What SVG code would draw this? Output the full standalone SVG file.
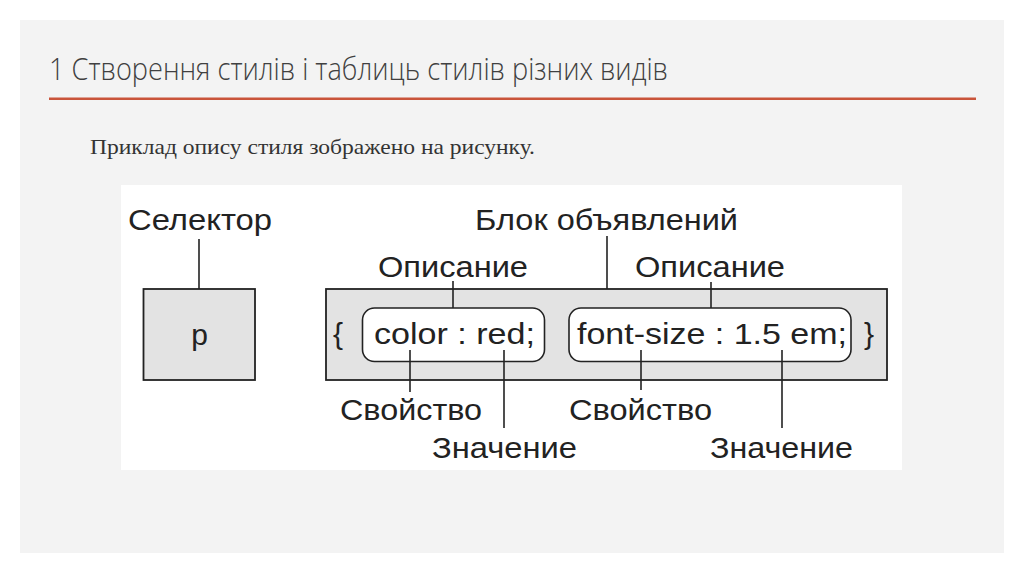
<svg xmlns="http://www.w3.org/2000/svg" width="1024" height="574" viewBox="0 0 1024 574">
<style>
.lbl{font-family:"Liberation Sans",Arial,sans-serif;font-size:30px;fill:#222}
.ln{stroke:#222;stroke-width:1.6;fill:none}
.box{fill:#e3e3e3;stroke:#222;stroke-width:1.8}
.rbox{fill:#fff;stroke:#222;stroke-width:1.6}
</style>
<rect width="1024" height="574" fill="#ffffff"/>
<rect x="20" y="20" width="984" height="533" fill="#f3f3f3"/>
<text x="49" y="80" font-family="'Open Sans','Noto Sans',sans-serif" font-weight="300" font-size="31" fill="#404040" textLength="619" lengthAdjust="spacingAndGlyphs">1 Створення стилів і таблиць стилів різних видів</text>
<rect x="49" y="97.5" width="927" height="2.5" fill="#c9543a"/>
<text x="90" y="154" font-family="'Liberation Serif','Times New Roman',serif" font-size="21" fill="#333" textLength="445" lengthAdjust="spacingAndGlyphs">Приклад опису стиля зображено на рисунку.</text>
<rect x="121" y="185" width="781" height="285" fill="#ffffff"/>
<g id="selector">
<rect class="box" x="143.5" y="289" width="111.5" height="91"/>
<text class="lbl" x="199.5" y="345" text-anchor="middle" font-size="32">p</text>
<text class="lbl" x="128" y="230" textLength="144" lengthAdjust="spacingAndGlyphs">Селектор</text>
</g>
<g id="declaration-block">
<rect class="box" x="326" y="289" width="561" height="91"/>
<text class="lbl" x="475" y="230" textLength="263" lengthAdjust="spacingAndGlyphs">Блок объявлений</text>
<text class="lbl" x="333" y="344">{</text>
<text class="lbl" x="864" y="344">}</text>
</g>
<g id="decl1">
<rect class="rbox" x="362.5" y="308" width="182" height="53.5" rx="12"/>
<text class="lbl" x="374" y="344" textLength="161" lengthAdjust="spacingAndGlyphs">color : red;</text>
<text class="lbl" x="378" y="277" textLength="150" lengthAdjust="spacingAndGlyphs">Описание</text>
<text class="lbl" x="340" y="420" textLength="142" lengthAdjust="spacingAndGlyphs">Свойство</text>
<text class="lbl" x="432" y="458" textLength="145" lengthAdjust="spacingAndGlyphs">Значение</text>
</g>
<g id="decl2">
<rect class="rbox" x="569" y="308" width="282" height="53.5" rx="12"/>
<text class="lbl" x="577" y="344" textLength="270" lengthAdjust="spacingAndGlyphs">font-size : 1.5 em;</text>
<text class="lbl" x="635" y="277" textLength="150" lengthAdjust="spacingAndGlyphs">Описание</text>
<text class="lbl" x="569" y="420" textLength="143" lengthAdjust="spacingAndGlyphs">Свойство</text>
<text class="lbl" x="710" y="458" textLength="143" lengthAdjust="spacingAndGlyphs">Значение</text>
</g>
<g id="connectors">
<line class="ln" x1="199" y1="239" x2="199" y2="289"/>
<line class="ln" x1="607" y1="236" x2="607" y2="289"/>
<line class="ln" x1="453" y1="281" x2="453" y2="308"/>
<line class="ln" x1="711" y1="282" x2="711" y2="308"/>
<line class="ln" x1="410" y1="350" x2="410" y2="392"/>
<line class="ln" x1="504" y1="350" x2="504" y2="428"/>
<line class="ln" x1="641" y1="350" x2="641" y2="390"/>
<line class="ln" x1="782" y1="350" x2="782" y2="428"/>
</g>
</svg>
